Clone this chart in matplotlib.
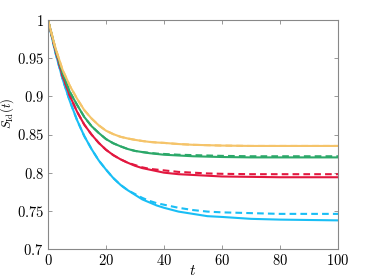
import matplotlib
matplotlib.use("Agg")
import matplotlib.pyplot as plt

plt.rcParams['mathtext.fontset'] = 'cm'
plt.rcParams['font.family'] = 'serif'
plt.rcParams['font.serif'] = ['DejaVu Serif']

# time samples
t = [0, 2.5, 5, 7.5, 10, 12.5, 15, 17.5, 20, 22.5, 25, 27.5, 30, 32.5, 35, 37.5, 40,
     45, 50, 55, 60, 70, 80, 90, 100]

# solid and dashed curves for each colour
blue_solid = [1.0, 0.958, 0.923, 0.894, 0.869, 0.848, 0.831, 0.816, 0.804, 0.793, 0.784,
              0.777, 0.771, 0.765, 0.761, 0.757, 0.754, 0.749, 0.746, 0.743, 0.742,
              0.7395, 0.7385, 0.738, 0.7375]
blue_dash = [1.0, 0.958, 0.923, 0.894, 0.869, 0.848, 0.831, 0.816, 0.804, 0.793, 0.784,
             0.777, 0.772, 0.767, 0.763, 0.760, 0.758, 0.754, 0.751, 0.749, 0.748,
             0.747, 0.746, 0.746, 0.746]
red_solid = [1.0, 0.961, 0.927, 0.901, 0.880, 0.863, 0.850, 0.839, 0.830, 0.823, 0.8175,
             0.813, 0.809, 0.806, 0.804, 0.802, 0.800, 0.798, 0.797, 0.796, 0.795,
             0.7945, 0.794, 0.794, 0.794]
red_dash = [1.0, 0.961, 0.927, 0.901, 0.880, 0.863, 0.850, 0.839, 0.830, 0.823, 0.8175,
            0.813, 0.810, 0.807, 0.805, 0.804, 0.803, 0.801, 0.800, 0.799, 0.7985,
            0.798, 0.798, 0.798, 0.798]
green_solid = [1.0, 0.963, 0.931, 0.906, 0.889, 0.873, 0.861, 0.852, 0.844, 0.8385, 0.8345,
               0.831, 0.8285, 0.827, 0.8255, 0.8245, 0.8235, 0.8225, 0.8215, 0.821, 0.8205,
               0.820, 0.820, 0.820, 0.820]
green_dash = [1.0, 0.963, 0.931, 0.906, 0.889, 0.873, 0.861, 0.852, 0.844, 0.8385, 0.8345,
              0.831, 0.8285, 0.827, 0.826, 0.825, 0.8245, 0.8235, 0.823, 0.8225, 0.822,
              0.8215, 0.8215, 0.8215, 0.8215]
yellow_solid = [1.0, 0.964, 0.935, 0.914, 0.897, 0.882, 0.871, 0.862, 0.855, 0.8505, 0.847,
                0.8448, 0.843, 0.8415, 0.8403, 0.8395, 0.839, 0.8375, 0.8365, 0.836, 0.8355,
                0.835, 0.835, 0.835, 0.835]
yellow_dash = yellow_solid

series = [
    (blue_solid, blue_dash, '#19BEF5'),
    (red_solid, red_dash, '#E2173F'),
    (green_solid, green_dash, '#2BA869'),
    (yellow_solid, yellow_dash, '#F5C46A'),
]

fig = plt.figure(figsize=(3.74, 2.80), dpi=100)
ax = fig.add_axes([48/374, 31/280, 290/374, 229/280])

for solid, dash, col in series:
    ax.plot(t, solid, color=col, lw=1.5)
    ax.plot(t, dash, color=col, lw=1.5, dashes=(3.2, 2.0))

ax.set_xlim(0, 100)
ax.set_ylim(0.7, 1.0)
ax.set_xticks([0, 20, 40, 60, 80, 100])
ax.set_xticklabels(['$%d$' % v for v in [0, 20, 40, 60, 80, 100]])
ax.set_yticks([0.7, 0.75, 0.8, 0.85, 0.9, 0.95, 1.0])
ax.set_yticklabels(['$0.7$', '$0.75$', '$0.8$', '$0.85$', '$0.9$', '$0.95$', '$1$'])
ax.tick_params(direction='in', top=True, right=True, length=3, width=0.6,
               color='#888888', labelsize=10.5, pad=3)
for s in ax.spines.values():
    s.set_color('#888888')
    s.set_linewidth(0.8)

ax.set_xlabel('$t$', fontsize=11, labelpad=-3)
ax.set_ylabel(r'$S_{\mathrm{Id}}(t)$', fontsize=9)
ax.yaxis.set_label_coords(-0.112, 0.594)

fig.savefig('out.png', dpi=100)
